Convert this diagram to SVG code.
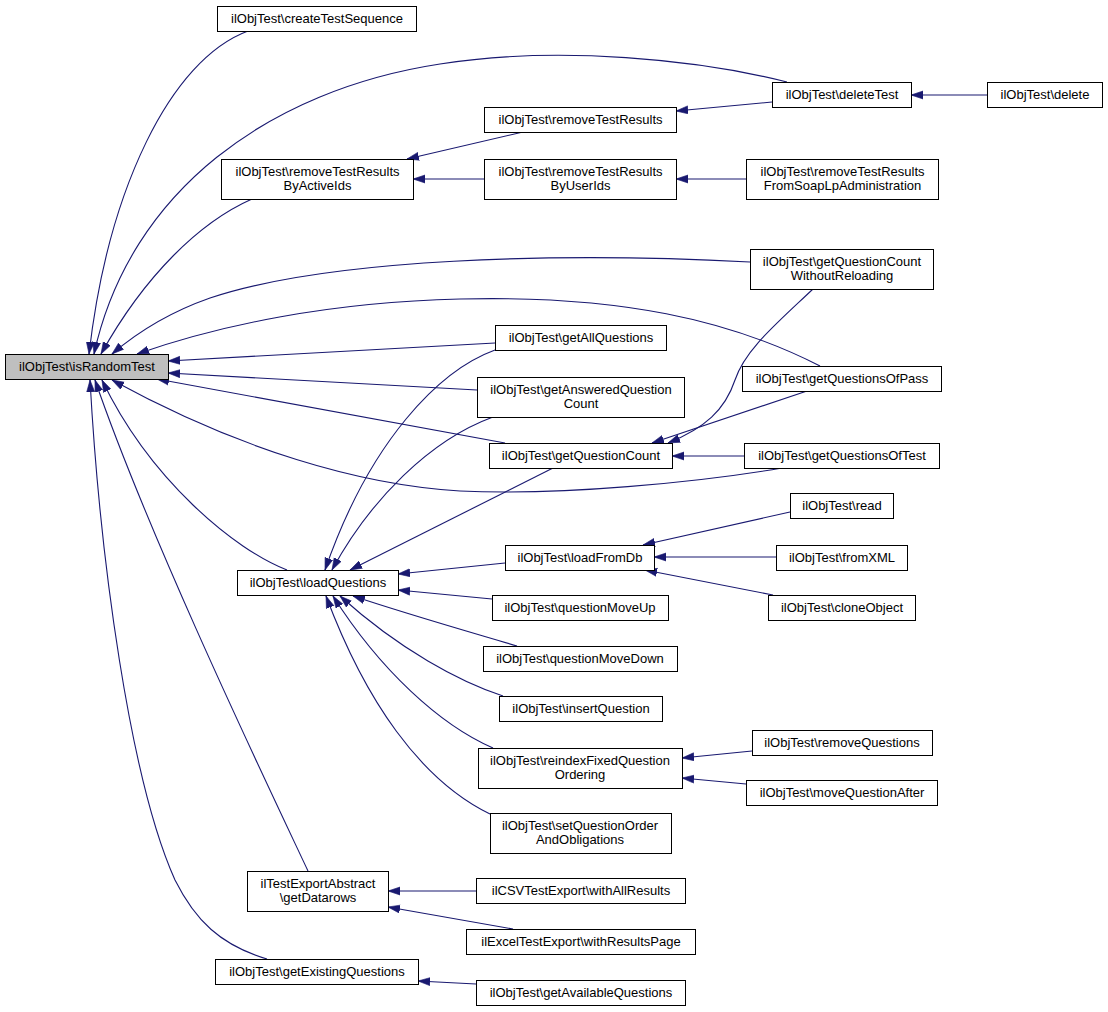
<svg xmlns="http://www.w3.org/2000/svg" width="1108" height="1012" viewBox="0 0 1108 1012">
<style>
.n rect{fill:#fff;stroke:#000;stroke-width:1}
.n.root rect{fill:#bfbfbf}
.n text{font-family:"Liberation Sans",Arial,Helvetica,sans-serif;font-size:13px;fill:#000;text-anchor:middle}
.e path{fill:none;stroke:#191970;stroke-width:1.1;marker-end:url(#ah)}
</style>
<defs>
<marker id="ah" markerUnits="userSpaceOnUse" markerWidth="13" markerHeight="10" refX="12" refY="4.5" orient="auto">
<path d="M0,0.5 L12,4.5 L0,8.5 Z" fill="#191970" stroke="#191970" stroke-width="0.6"/>
</marker>
</defs>
<rect width="1108" height="1012" fill="#fff"/>
<g id="edges" class="e">
<path d="M248,31 C170,60 108,190 89,354"/>
<path d="M787,82 C700,60 560,45 440,64 C270,90 130,190 94,354"/>
<path d="M252,199 C200,222 145,275 101,354"/>
<path d="M750,262 C560,252 330,258 210,298 C170,312 140,330 112,354"/>
<path d="M820,366 C730,320 620,295 460,299 C330,302 220,325 137,354"/>
<path d="M495,343 L168,361"/>
<path d="M477,390 L168,373"/>
<path d="M505,443 L157,379"/>
<path d="M782,468 C700,482 560,496 460,491 C360,485 240,450 112,380"/>
<path d="M287,570 C235,550 150,480 102,380"/>
<path d="M308,871 C270,790 150,540 95,380"/>
<path d="M267,959 C220,945 195,920 175,880 C130,780 100,560 90,380"/>
<path d="M523,132 L407,159"/>
<path d="M484,179 L413,179"/>
<path d="M772,102 L676,111"/>
<path d="M987,95 L911,95"/>
<path d="M746,179 L676,179"/>
<path d="M813,289 C775,325 745,350 735,380 C725,410 705,428 668,443"/>
<path d="M807,391 L652,443"/>
<path d="M744,456 L672,456"/>
<path d="M495,350 C440,370 370,440 325,570"/>
<path d="M493,417 C430,440 370,500 332,570"/>
<path d="M553,468 L350,570"/>
<path d="M505,563 L398,574"/>
<path d="M492,599 L398,590"/>
<path d="M517,646 C470,632 410,615 353,596"/>
<path d="M503,696 C460,682 400,650 340,596"/>
<path d="M493,748 C440,725 380,670 333,596"/>
<path d="M490,814 C420,780 365,700 326,596"/>
<path d="M790,512 L643,545"/>
<path d="M776,557 L654,557"/>
<path d="M773,595 L645,570"/>
<path d="M752,751 L682,758"/>
<path d="M746,784 L682,778"/>
<path d="M476,891 L388,891"/>
<path d="M513,929 L388,907"/>
<path d="M476,984 L418,981"/>
</g>
<g id="isRandomTest" class="n root"><rect x="5.5" y="354.5" width="163" height="25"/><text x="87" y="371">ilObjTest\isRandomTest</text></g>
<g id="createTestSequence" class="n"><rect x="217.5" y="6.5" width="199" height="25"/><text x="317" y="23">ilObjTest\createTestSequence</text></g>
<g id="deleteTest" class="n"><rect x="772.5" y="82.5" width="139" height="25"/><text x="842" y="99">ilObjTest\deleteTest</text></g>
<g id="delete" class="n"><rect x="987.5" y="82.5" width="115" height="25"/><text x="1045" y="99">ilObjTest\delete</text></g>
<g id="removeTestResults" class="n"><rect x="484.5" y="107.5" width="192" height="25"/><text x="580.5" y="124">ilObjTest\removeTestResults</text></g>
<g id="removeTestResultsByActiveIds" class="n"><rect x="221.5" y="159.5" width="192" height="40"/><text x="317.5" y="176">ilObjTest\removeTestResults</text><text x="317.5" y="190">ByActiveIds</text></g>
<g id="removeTestResultsByUserIds" class="n"><rect x="484.5" y="159.5" width="192" height="40"/><text x="580.5" y="176">ilObjTest\removeTestResults</text><text x="580.5" y="190">ByUserIds</text></g>
<g id="removeTestResultsFromSoapLpAdministration" class="n"><rect x="746.5" y="159.5" width="192" height="40"/><text x="842.5" y="176">ilObjTest\removeTestResults</text><text x="842.5" y="190">FromSoapLpAdministration</text></g>
<g id="getQuestionCountWithoutReloading" class="n"><rect x="750.5" y="249.5" width="183" height="40"/><text x="842" y="266">ilObjTest\getQuestionCount</text><text x="842" y="280">WithoutReloading</text></g>
<g id="getAllQuestions" class="n"><rect x="495.5" y="325.5" width="171" height="25"/><text x="581" y="342">ilObjTest\getAllQuestions</text></g>
<g id="getQuestionsOfPass" class="n"><rect x="742.5" y="366.5" width="199" height="25"/><text x="842" y="383">ilObjTest\getQuestionsOfPass</text></g>
<g id="getAnsweredQuestionCount" class="n"><rect x="477.5" y="377.5" width="207" height="40"/><text x="581" y="394">ilObjTest\getAnsweredQuestion</text><text x="581" y="408">Count</text></g>
<g id="getQuestionCount" class="n"><rect x="489.5" y="443.5" width="183" height="25"/><text x="581" y="460">ilObjTest\getQuestionCount</text></g>
<g id="getQuestionsOfTest" class="n"><rect x="744.5" y="443.5" width="195" height="25"/><text x="842" y="460">ilObjTest\getQuestionsOfTest</text></g>
<g id="read" class="n"><rect x="790.5" y="493.5" width="103" height="25"/><text x="842" y="510">ilObjTest\read</text></g>
<g id="loadFromDb" class="n"><rect x="505.5" y="545.5" width="149" height="25"/><text x="580" y="562">ilObjTest\loadFromDb</text></g>
<g id="fromXML" class="n"><rect x="776.5" y="545.5" width="131" height="25"/><text x="842" y="562">ilObjTest\fromXML</text></g>
<g id="loadQuestions" class="n"><rect x="237.5" y="570.5" width="161" height="25"/><text x="318" y="587">ilObjTest\loadQuestions</text></g>
<g id="questionMoveUp" class="n"><rect x="492.5" y="595.5" width="176" height="25"/><text x="580" y="612">ilObjTest\questionMoveUp</text></g>
<g id="cloneObject" class="n"><rect x="768.5" y="595.5" width="147" height="25"/><text x="842" y="612">ilObjTest\cloneObject</text></g>
<g id="questionMoveDown" class="n"><rect x="483.5" y="646.5" width="194" height="25"/><text x="580" y="663">ilObjTest\questionMoveDown</text></g>
<g id="insertQuestion" class="n"><rect x="499.5" y="696.5" width="163" height="25"/><text x="581" y="713">ilObjTest\insertQuestion</text></g>
<g id="removeQuestions" class="n"><rect x="752.5" y="730.5" width="180" height="25"/><text x="842" y="747">ilObjTest\removeQuestions</text></g>
<g id="reindexFixedQuestionOrdering" class="n"><rect x="478.5" y="748.5" width="204" height="40"/><text x="580" y="765">ilObjTest\reindexFixedQuestion</text><text x="580" y="779">Ordering</text></g>
<g id="moveQuestionAfter" class="n"><rect x="746.5" y="780.5" width="191" height="25"/><text x="842" y="797">ilObjTest\moveQuestionAfter</text></g>
<g id="setQuestionOrderAndObligations" class="n"><rect x="490.5" y="813.5" width="181" height="40"/><text x="580" y="830">ilObjTest\setQuestionOrder</text><text x="580" y="844">AndObligations</text></g>
<g id="getDatarows" class="n"><rect x="247.5" y="871.5" width="141" height="40"/><text x="318" y="888">ilTestExportAbstract</text><text x="318" y="902">\getDatarows</text></g>
<g id="withAllResults" class="n"><rect x="476.5" y="878.5" width="209" height="25"/><text x="581" y="895">ilCSVTestExport\withAllResults</text></g>
<g id="withResultsPage" class="n"><rect x="466.5" y="929.5" width="229" height="25"/><text x="581" y="946">ilExcelTestExport\withResultsPage</text></g>
<g id="getExistingQuestions" class="n"><rect x="215.5" y="959.5" width="203" height="25"/><text x="317" y="976">ilObjTest\getExistingQuestions</text></g>
<g id="getAvailableQuestions" class="n"><rect x="476.5" y="980.5" width="209" height="25"/><text x="581" y="997">ilObjTest\getAvailableQuestions</text></g>
</svg>
